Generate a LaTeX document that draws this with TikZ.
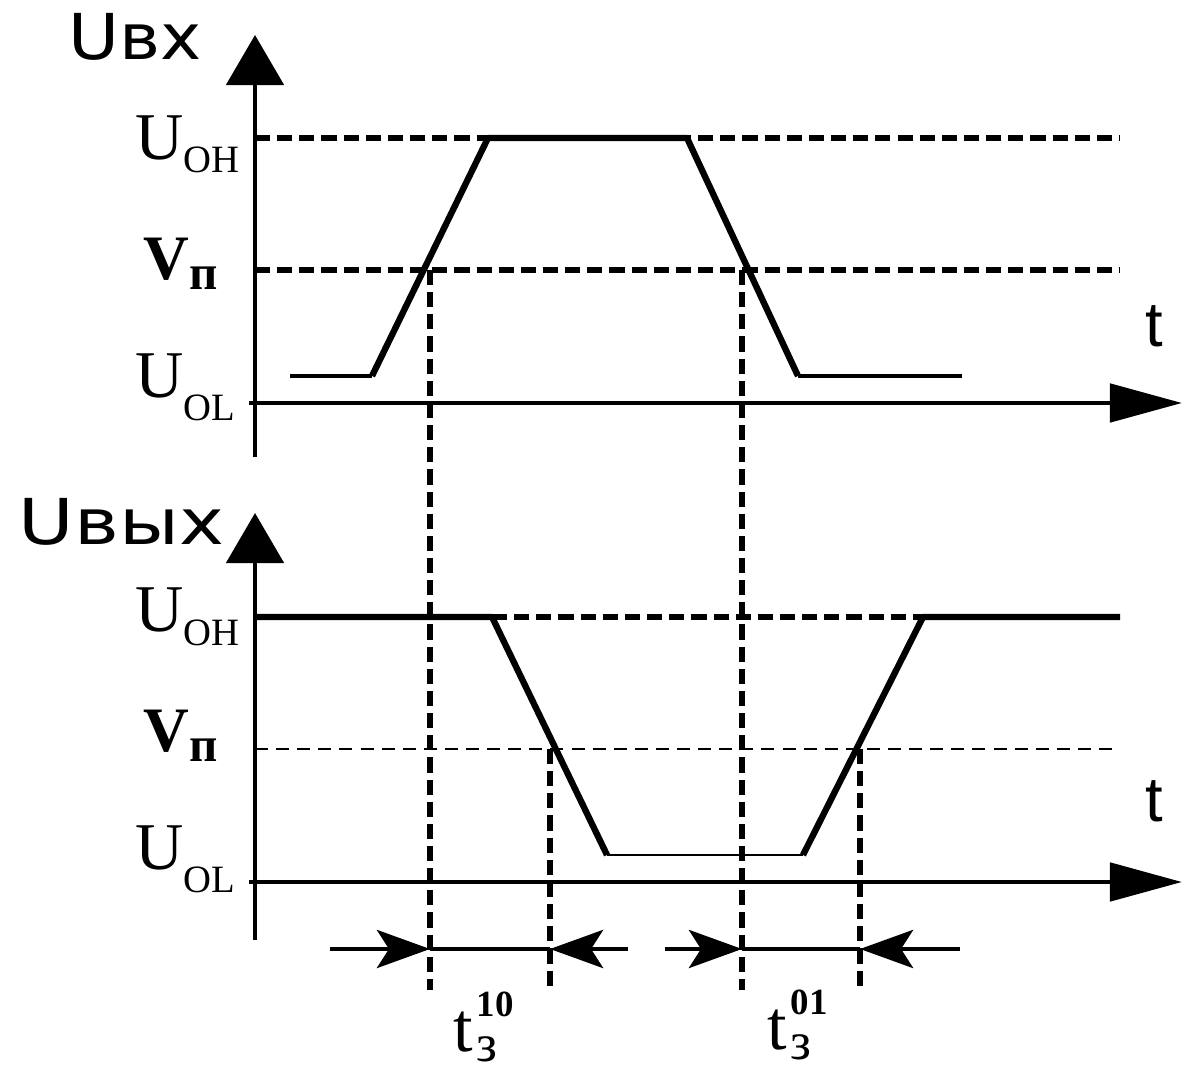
\documentclass[tikz,border=0pt]{standalone}
\usepackage{fontspec}
\usepackage{graphicx}
\setmainfont{Liberation Serif}
\newfontfamily\headfont{DejaVu Sans}
\newfontfamily\timefont{Liberation Sans}
\usetikzlibrary{arrows.meta}

% U with a lowered subscript: #1 letter, #2 subscript, #3 drop
\newcommand{\levellabel}[3]{{\fontsize{19}{19}\selectfont #1}\raisebox{-#3}{\fontsize{11}{11}\selectfont #2}}
% bold V with subscript
\newcommand{\thrlabel}{{\bfseries\fontsize{18}{18}\selectfont V}\raisebox{-2.8pt}{\bfseries\fontsize{14}{14}\selectfont п}}
% delay time t_з^{..}
\newcommand{\delaylabel}[1]{{\fontsize{20}{20}\selectfont t}\kern1pt\rlap{\raisebox{-2.8pt}{\fontsize{15}{15}\selectfont з}}\raisebox{10pt}{\bfseries\fontsize{10.5}{10.5}\selectfont #1}}

\begin{document}
\begin{tikzpicture}[x=0.01cm, y=-0.01cm,
    axis/.style={line width=1.4pt},
    vaxis/.style={axis, -{Triangle[length=0.5cm, width=0.57cm]}},
    haxis/.style={axis, -{Triangle[length=0.72cm, width=0.38cm]}},
    wave/.style={line width=1.8pt, line join=round},
    flat/.style={line width=1.1pt},
    thinflat/.style={line width=0.7pt},
    reflevel/.style={line width=1.5pt, dash pattern=on 4.3pt off 2pt},
    thinlevel/.style={line width=0.6pt, dash pattern=on 3.7pt off 2.3pt},
    drop/.style={line width=1.5pt, dash pattern=on 4.3pt off 2pt},
    dim/.style={line width=1.4pt, -{Stealth[length=0.53cm, width=0.38cm, inset=0.12cm]}},
    lbl/.style={anchor=base west, inner sep=0pt}
]
\useasboundingbox (0,0) rectangle (1182,1068);

% Input: axes
\coordinate (inorig) at (255,403);
\draw[vaxis] (255,457) -- (255,35);
\draw[haxis] (249,403) -- (1182,403);

% Input: reference levels
\draw[reflevel] (255,138) -- (1120,138);
\draw[reflevel] (255,270) -- (1120,270);

% Input waveform
\coordinate (in0) at (290,376);
\coordinate (in1) at (372,376);
\coordinate (in2) at (488,138);
\coordinate (in3) at (687,138);
\coordinate (in4) at (798,376);
\coordinate (in5) at (962,376);
\draw[flat] (in0) -- (in1);
\draw[wave] (in1) -- (in2) -- (in3) -- (in4);
\draw[flat] (in4) -- (in5);

% Output: axes
\draw[vaxis] (255,940) -- (255,513);
\draw[haxis] (249,882) -- (1182,882);

% Output: reference levels
\draw[reflevel] (492,617) -- (923,617);
\draw[thinlevel] (255,749) -- (1120,749);

% Output waveform
\coordinate (out0) at (255,617);
\coordinate (out1) at (492,617);
\coordinate (out2) at (607,855);
\coordinate (out3) at (803,855);
\coordinate (out4) at (923,617);
\coordinate (out5) at (1120,617);
\draw[wave] (out0) -- (out1) -- (out2);
\draw[thinflat] (out2) -- (out3);
\draw[wave] (out3) -- (out4) -- (out5);

% Threshold crossings dropped to the time axis
\foreach \x/\y in {430/270, 742/270, 550/749, 860/749}
    \draw[drop] (\x,\y) -- (\x,990);

% Delay markers
\coordinate (d1a) at (430,949);
\coordinate (d1b) at (550,949);
\coordinate (d2a) at (742,949);
\coordinate (d2b) at (860,949);
\draw[dim] (330,949) -- (d1a);
\draw[line width=1.4pt] (d1a) -- (d1b);
\draw[dim] (628,949) -- (d1b);
\draw[dim] (665,949) -- (d2a);
\draw[line width=1.4pt] (d2a) -- (d2b);
\draw[dim] (960,949) -- (d2b);

% Labels
\node[lbl] (uin) at (68,60) {\headfont\fontsize{18}{18}\selectfont\scalebox{1.1}[1]{Uвх}};
\node[lbl] (inoh) at (135,160) {\levellabel{U}{OH}{3.7pt}};
\node[lbl] (invp) at (143,280) {\thrlabel};
\node[lbl] (inol) at (135,398) {\levellabel{U}{OL}{6.3pt}};
\node[lbl] (tin) at (1145,347) {\timefont\fontsize{18}{18}\selectfont t};

\node[lbl] (uout) at (18,545) {\headfont\fontsize{18}{18}\selectfont\scalebox{1.2}[1]{Uвых}};
\node[lbl] (outoh) at (135,632) {\levellabel{U}{OH}{3.7pt}};
\node[lbl] (outvp) at (143,752) {\thrlabel};
\node[lbl] (outol) at (135,870) {\levellabel{U}{OL}{6.3pt}};
\node[lbl] (tout) at (1145,822) {\timefont\fontsize{18}{18}\selectfont t};

\node[lbl] (t10) at (453,1052) {\delaylabel{10}};
\node[lbl] (t01) at (767,1050) {\delaylabel{01}};

\end{tikzpicture}
\end{document}
